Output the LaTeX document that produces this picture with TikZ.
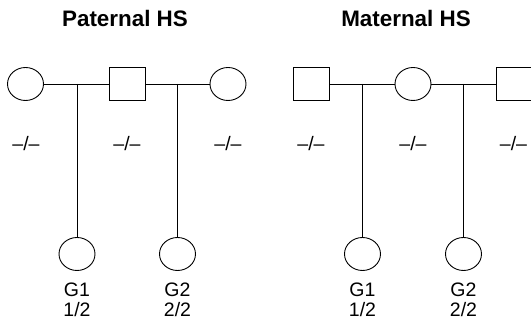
\documentclass[tikz,border=0pt]{standalone}
\usepackage{fontspec}
\setmainfont{Liberation Sans}
\usetikzlibrary{shapes.geometric}
\begin{document}
\begin{tikzpicture}[x=1pt,y=-1pt,line width=0.9pt,
  fem/.style={draw,ellipse,minimum width=36pt,minimum height=33pt,inner sep=0pt},
  mal/.style={draw,rectangle,minimum width=36pt,minimum height=33pt,inner sep=0pt},
  lab/.style={font=\fontsize{19.5}{22}\selectfont,anchor=base,inner sep=0pt},
  ttl/.style={font=\fontsize{22.4}{26}\selectfont\bfseries,anchor=base,inner sep=0pt}]
\useasboundingbox (0,0) rectangle (531,320);
% titles
\node[ttl] (tp) at (125,27) {Paternal HS};
\node[ttl] (tm) at (406,27) {Maternal HS};
% paternal
\node[fem] (p1) at (25.5,84) {};
\node[mal] (p2) at (127,84) {};
\node[fem] (p3) at (228,84) {};
\coordinate (j1) at (77,84);
\coordinate (j2) at (177.5,84);
\node[fem] (c1) at (77,254) {};
\node[fem] (c2) at (177.5,254) {};
\draw (p1) -- (p2);
\draw (p2) -- (p3);
\draw (j1) -- (c1);
\draw (j2) -- (c2);
\node[lab] (lp1) at (26,150.5) {–/–};
\node[lab] (lp2) at (127,150.5) {–/–};
\node[lab] (lp3) at (228,150.5) {–/–};
\node[lab] (gc1) at (77,296.5) {G1};
\node[lab] (ac1) at (77,316.5) {1/2};
\node[lab] (gc2) at (177.5,296.5) {G2};
\node[lab] (ac2) at (177.5,316.5) {2/2};
% maternal
\node[mal] (m1) at (311.5,84) {};
\node[fem] (m2) at (413,84) {};
\node[mal] (m3) at (514,84) {};
\coordinate (k1) at (362.5,84);
\coordinate (k2) at (463.5,84);
\node[fem] (d1) at (362.5,254) {};
\node[fem] (d2) at (463.5,254) {};
\draw (m1) -- (m2);
\draw (m2) -- (m3);
\draw (k1) -- (d1);
\draw (k2) -- (d2);
\node[lab] (lm1) at (311,150.5) {–/–};
\node[lab] (lm2) at (413,150.5) {–/–};
\node[lab] (lm3) at (513.5,150.5) {–/–};
\node[lab] (gd1) at (362.5,296.5) {G1};
\node[lab] (ad1) at (362.5,316.5) {1/2};
\node[lab] (gd2) at (463.5,296.5) {G2};
\node[lab] (ad2) at (463.5,316.5) {2/2};
\end{tikzpicture}
\end{document}
